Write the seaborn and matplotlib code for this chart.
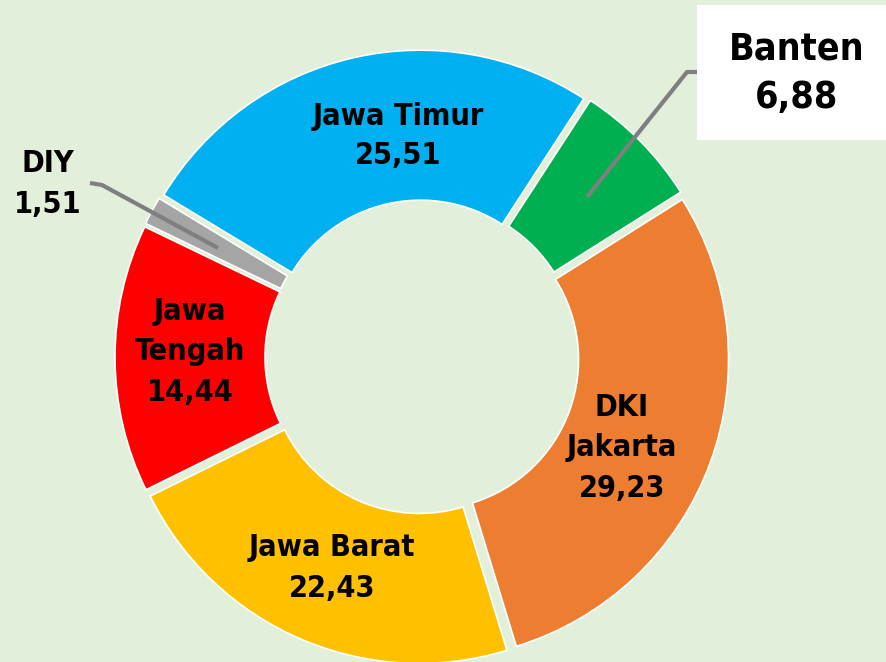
import matplotlib
matplotlib.use("Agg")
import matplotlib.pyplot as plt
import seaborn as sns

# share of total per province (%), clockwise from Banten
provinces = ["Banten", "DKI\nJakarta", "Jawa Barat", "Jawa\nTengah", "DIY", "Jawa Timur"]
shares = [6.88, 29.23, 22.43, 14.44, 1.51, 25.51]
share_labels = ["6,88", "29,23", "22,43", "14,44", "1,51", "25,51"]
colors = ["#00B050", "#ED7D31", "#FFC000", "#FF0000", "#A5A5A5", "#00B0F0"]

BG = "#E2EFDA"
W, H = 887, 662

sns.set_theme(style="white")
plt.rcParams["font.family"] = ["DejaVu Sans Condensed", "DejaVu Sans"]

font = dict(fontfamily=["DejaVu Sans Condensed", "DejaVu Sans"],
            fontstretch="condensed", fontweight="bold", color="black")

fig = plt.figure(figsize=(W / 100, H / 100), dpi=100, facecolor=BG)
ax = fig.add_axes([0, 0, 1, 1])
ax.set_facecolor(BG)

# axes work in pixel units (y upwards)
ax.pie(shares, colors=sns.color_palette(colors), startangle=57, counterclock=False,
       center=(422, H - 357), radius=300, explode=[7] * len(shares),
       wedgeprops=dict(width=150, edgecolor="white", linewidth=1.2))
ax.set_xlim(0, W)
ax.set_ylim(0, H)
ax.set_aspect("equal")
ax.axis("off")


def label(i, x, y, size=22, ls=1.5, **kw):
    ax.text(x, H - y, f"{provinces[i]}\n{share_labels[i]}", ha="center", va="center",
            multialignment="center", fontsize=size, linespacing=ls, **font, **kw)


# in-slice labels (pixel positions, y from the top)
label(1, 622, 448)
label(2, 332, 568)
label(3, 190, 352)
label(5, 398, 136, ls=1.4)

# DIY, outside with leader line
label(4, 48, 184)
ax.plot([90, 102, 218], [H - 183, H - 185, H - 248], color="#7F7F7F", lw=3,
        solid_capstyle="butt")

# Banten, white box with leader line
ax.add_patch(plt.Rectangle((697, H - 140), 200, 135, facecolor="white",
                           edgecolor="none", clip_on=False))
ax.plot([697, 687, 587], [H - 72, H - 72, H - 197], color="#7F7F7F", lw=3,
        solid_capstyle="butt")
label(0, 797, 74, size=27, ls=1.45)

fig.savefig("out.png", dpi=100, facecolor=BG)
